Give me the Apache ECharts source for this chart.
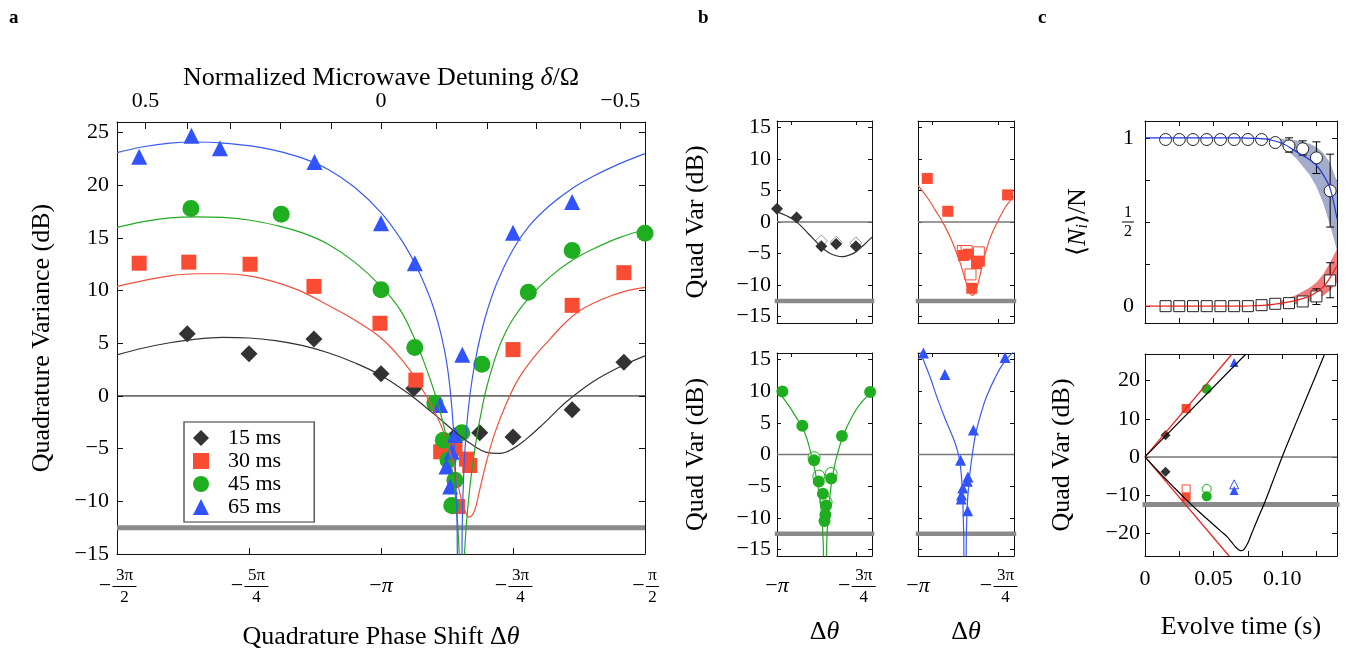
<!DOCTYPE html>
<html><head><meta charset="utf-8">
<script src="https://cdn.jsdelivr.net/npm/echarts@6/dist/echarts.min.js"></script>
<style>html,body{margin:0;padding:0;background:#fff}#c{width:1347px;height:652px}</style>
</head><body><div id="c"></div>
<script>
// ---------------- DATA (x in units of π for phase panels) ----------------
// Panel a: scatter
const a15x = [-1.367,-1.25,-1.127,-1.0,-0.938,-0.86,-0.813,-0.75,-0.638,-0.54];
const a15y = [5.9,4.0,5.4,2.1,0.7,-3.8,-3.5,-3.9,-1.3,3.2];
const a30x = [-1.458,-1.364,-1.248,-1.127,-1.002,-0.934,-0.887,-0.86,-0.838,-0.832,-0.855,-0.75,-0.638,-0.54];
const a30y = [12.6,12.7,12.5,10.4,6.9,1.5,-5.3,-5.0,-6.0,-6.6,-10.5,4.4,8.6,11.7];
const a45x = [-1.36,-1.189,-1.0,-0.936,-0.898,-0.882,-0.847,-0.873,-0.86,-0.866,-0.809,-0.721,-0.638,-0.5];
const a45y = [17.8,17.25,10.07,4.6,-0.7,-4.2,-3.5,-6.1,-8.0,-10.4,3.0,9.85,13.8,15.45];
const a65x = [-1.458,-1.359,-1.305,-1.126,-1.0,-0.936,-0.888,-0.86,-0.866,-0.876,-0.869,-0.846,-0.75,-0.638];
const a65y = [22.7,24.7,23.5,22.2,16.4,12.6,-0.85,-3.7,-5.3,-6.7,-8.6,3.9,15.5,18.4];
// Panel a: fits [θ/π, dB]
const fitA15 = [[-1.5,3.9],[-1.45,4.55],[-1.4,5.05],[-1.35,5.4],[-1.3,5.55],[-1.25,5.5],[-1.2,5.25],[-1.15,4.8],[-1.1,4.1],[-1.05,3.15],[-1.0,1.95],[-0.95,0.3],[-0.9,-1.7],[-0.85,-3.8],[-0.825,-4.7],[-0.8,-5.35],[-0.775,-5.45],[-0.75,-5.0],[-0.725,-4.1],[-0.7,-3.0],[-0.675,-1.8],[-0.65,-0.6],[-0.6,1.3],[-0.55,2.7],[-0.5,3.8]];
const fitA30 = [[-1.5,10.4],[-1.45,10.95],[-1.4,11.4],[-1.35,11.6],[-1.3,11.6],[-1.25,11.4],[-1.2,10.8],[-1.15,9.9],[-1.1,8.6],[-1.05,7.2],[-1.0,5.5],[-0.96,3.4],[-0.93,1.3],[-0.9,-1.3],[-0.88,-3.6],[-0.865,-6.0],[-0.853,-8.7],[-0.843,-10.6],[-0.833,-11.5],[-0.823,-10.9],[-0.813,-8.9],[-0.8,-6.2],[-0.785,-3.6],[-0.765,-1.0],[-0.74,1.6],[-0.71,3.7],[-0.68,5.4],[-0.65,7.0],[-0.62,8.2],[-0.58,9.2],[-0.54,9.9],[-0.5,10.3]];
const fitA45 = [[-1.5,16.0],[-1.45,16.55],[-1.4,16.9],[-1.35,17.0],[-1.3,16.95],[-1.25,16.7],[-1.2,16.2],[-1.15,15.5],[-1.1,14.4],[-1.05,12.7],[-1.0,10.4],[-0.964,8.2],[-0.936,5.4],[-0.92,3.4],[-0.907,1.6],[-0.893,-0.6],[-0.879,-3.3],[-0.868,-6.2],[-0.86,-9.0],[-0.855,-12],[-0.851,-16],[-0.849,-20],[-0.846,-20],[-0.843,-16],[-0.838,-12],[-0.832,-8.8],[-0.825,-6.0],[-0.818,-3.7],[-0.81,-1.5],[-0.8,0.8],[-0.785,3.4],[-0.77,5.4],[-0.75,7.3],[-0.72,9.3],[-0.68,11.3],[-0.64,12.8],[-0.6,13.9],[-0.55,15.0],[-0.5,15.8]];
const fitA65 = [[-1.5,23.1],[-1.45,23.65],[-1.4,24.0],[-1.35,24.1],[-1.3,24.0],[-1.25,23.75],[-1.2,23.3],[-1.15,22.6],[-1.1,21.5],[-1.05,19.8],[-1.0,17.4],[-0.964,15.0],[-0.936,12.6],[-0.915,10.3],[-0.9,8.3],[-0.886,5.8],[-0.876,3.3],[-0.869,0.6],[-0.863,-3.0],[-0.859,-7],[-0.856,-12],[-0.854,-20],[-0.848,-20],[-0.846,-12],[-0.843,-7],[-0.838,-3],[-0.831,0.3],[-0.822,3.2],[-0.8125,5.5],[-0.8,7.9],[-0.78,10.8],[-0.75,13.9],[-0.72,16.1],[-0.68,18.1],[-0.638,19.7],[-0.6,20.8],[-0.55,22.0],[-0.5,23.0]];
// Panel a: axes
const aXMin = -1.5, aXMax = -0.5, aYMin = -15, aYMax = 26;
const aYTicks = [-15,-10,-5,0,5,10,15,20,25];
const aXTicks = [-1.25,-1,-0.75];
const fracVals = [-1.5,-1.25,-1,-0.75,-0.5];
const fracNum  = ['3π','5π','π','3π','π'];
const fracDen  = ['2','4','','4','2'];
const aTopTickTheta  = [-1.446,-1.367,-1.286,-1.19,-1.095,-1.0,-0.896,-0.799,-0.706,-0.623,-0.547];
const aTopTickDetune = [0.5,0.4,0.3,0.2,0.1,0,-0.1,-0.2,-0.3,-0.4,-0.5];
const aTopLabelDetune = [0.5,0,-0.5];
const legendNames = ['15 ms','30 ms','45 ms','65 ms'];
const sqlLevel = -12.5;   // standard quantum limit line (dB)

// Panel b
const bXMin = -1.0, bXMax = -0.7, bYMin = -16, bYMax = 16;
const bYTicks = [-15,-10,-5,0,5,10,15];
const bXTicksTop = [-0.955,-0.75];
const bXTicksBottom = [-0.75];
const bXLabels = [-1,-0.75];
const b15x = [-1.0,-0.938,-0.86,-0.813,-0.751];
const b15y = [2.1,0.7,-3.85,-3.5,-3.85];
const b15ox = [-0.86,-0.813,-0.751];
const b15oy = [-3.0,-3.2,-3.3];
const b30x = [-0.971,-0.907,-0.858,-0.843,-0.832,-0.817,-0.808,-0.72];
const b30y = [6.9,1.7,-5.3,-5.1,-10.5,-6.6,-6.2,4.3];
const b30ox = [-0.86,-0.848,-0.836,-0.814,-0.81];
const b30oy = [-4.6,-4.6,-8.3,-5.3,-4.8];
const b45x = [-0.983,-0.92,-0.883,-0.868,-0.855,-0.845,-0.847,-0.85,-0.829,-0.795,-0.706];
const b45y = [9.94,4.55,-0.9,-4.24,-6.2,-8.05,-9.5,-10.5,-3.8,2.9,9.84];
const b45ox = [-0.883,-0.868,-0.845,-0.829];
const b45oy = [-0.5,-3.4,-7.5,-3.0];
const b65x = [-0.983,-0.916,-0.867,-0.827,-0.844,-0.846,-0.86,-0.864,-0.865,-0.845,-0.728];
const b65y = [16.0,12.6,-0.9,3.86,-3.55,-4.2,-5.3,-6.4,-7.0,-8.85,15.3];
const fitB15 = [[-1.0,1.6],[-0.97,1.0],[-0.94,0.1],[-0.9,-1.9],[-0.86,-3.95],[-0.835,-4.9],[-0.813,-5.35],[-0.793,-5.5],[-0.77,-5.2],[-0.75,-4.7],[-0.725,-3.6],[-0.7,-2.4]];
const fitB30 = [[-1.0,5.8],[-0.97,3.8],[-0.945,1.8],[-0.92,-0.3],[-0.895,-2.9],[-0.87,-6.2],[-0.852,-9.2],[-0.84,-11.0],[-0.83,-11.6],[-0.82,-11.0],[-0.808,-8.8],[-0.793,-5.6],[-0.775,-2.6],[-0.752,0],[-0.73,2.1],[-0.715,3.2],[-0.7,4.1]];
const fitB45 = [[-1.0,10.2],[-0.98,8.9],[-0.96,7.5],[-0.94,5.9],[-0.92,4.3],[-0.905,2.4],[-0.892,0],[-0.88,-2.6],[-0.87,-5.2],[-0.862,-8],[-0.857,-11],[-0.854,-14],[-0.852,-18],[-0.846,-18],[-0.843,-14],[-0.84,-10.8],[-0.835,-7.6],[-0.828,-4.5],[-0.818,-1.7],[-0.808,0.3],[-0.795,2.4],[-0.775,4.8],[-0.75,7.1],[-0.725,8.7],[-0.7,10.0]];
const fitB65 = [[-1.0,17],[-0.98,14.5],[-0.96,11.9],[-0.942,9.2],[-0.915,5.6],[-0.89,2.6],[-0.876,0.5],[-0.868,-1.6],[-0.862,-5],[-0.859,-9],[-0.857,-13],[-0.856,-18],[-0.85,-18],[-0.849,-13],[-0.846,-8],[-0.84,-4],[-0.833,-1],[-0.825,1.8],[-0.817,3.9],[-0.8,7.0],[-0.786,9.1],[-0.76,12.0],[-0.733,14.4],[-0.7,16.3]];

// Panel c (top): populations
const cXMin = 0, cXMax = 0.14;
const cXTicks = [0.025,0.05,0.075,0.1,0.125];
const cXLabels = [0,0.05,0.1];
const cTopYMin = -0.1, cTopYMax = 1.1;
const cTopYTicks = [0,0.25,0.5,0.75,1];
const cTopYLabels = [0,0.5,1];
const cTime   = [0.015,0.025,0.035,0.045,0.055,0.065,0.075,0.085,0.095,0.105,0.115,0.125,0.135];
const cCircle = [0.99,0.99,0.99,0.99,0.99,0.99,0.99,0.99,0.972,0.952,0.935,0.881,0.685];
const cSquare = [0,0,0,0,0,0,0,0.006,0.014,0.018,0.028,0.058,0.153];
const cCircErr = [[0.105,0.915,1.0],[0.115,0.897,0.982],[0.125,0.788,0.976],[0.135,0.47,0.903]];
const cSqErr   = [[0.125,0.01,0.103],[0.135,0.05,0.258]];
const cLineT   = [0,0.07,0.08,0.09,0.1,0.108,0.115,0.12,0.125,0.13,0.135,0.14];
const cBlueLine= [1,1,0.997,0.99,0.968,0.93,0.895,0.87,0.837,0.78,0.70,0.52];
const cRedLine = [0,0,0.003,0.008,0.018,0.03,0.045,0.06,0.083,0.115,0.17,0.24];
const cBandT  = [0.08,0.09,0.1,0.11,0.12,0.125,0.13,0.135,0.14];
const cBlueHi = [1,1,0.995,0.985,0.965,0.945,0.91,0.85,0.74];
const cBlueLo = [1,0.985,0.95,0.88,0.78,0.71,0.61,0.48,0.33];
const cRedHi  = [0.005,0.015,0.035,0.065,0.11,0.14,0.19,0.26,0.34];
const cRedLo  = [0,0,0.005,0.012,0.028,0.042,0.062,0.095,0.14];
// Panel c (bottom): quadrature variance vs time
const cBotYMin = -26, cBotYMax = 27;
const cBotYTicks = [-20,-10,0,10,20];
const cBlackUp  = [[0,0],[0.0736,27]];
const cRedUp    = [[0,0],[0.0635,27]];
const cRedDown  = [[0,0],[0.0613,-26]];
const cBlackDown= [[0,0],[0.01,-3.9],[0.02,-7.6],[0.03,-11.2],[0.04,-14.6],[0.05,-17.8],[0.055,-19.4],[0.06,-21.0],[0.063,-22.3],[0.066,-23.6],[0.0685,-24.4],[0.0705,-24.6],[0.0725,-24.1],[0.075,-22.6],[0.078,-19.9],[0.082,-16.4],[0.087,-12.2],[0.093,-6.6],[0.1,0],[0.11,8.8],[0.12,17.4],[0.131,27]];
const cDiam = [[0.015,5.7],[0.015,-3.9]];
const cSqF  = [[0.03,12.7],[0.03,-10.6]];
const cSqO  = [[0.03,-8.4]];
const cCirF = [[0.045,17.8],[0.045,-10.35]];
const cCirO = [[0.045,-8.4]];
const cTriF = [[0.065,24.8],[0.065,-8.8]];
const cTriO = [[0.065,-7.2]];

// ---------------- STYLE / BUILD ----------------
const FONT = '"Liberation Serif","Times New Roman",serif';
const TICKFS = 22, NAMEFS = 26;
const MK = {k:'#333333', r:'#fa4b33', g:'#1fae1f', b:'#3052ff'};
const LN = {k:'#333333', r:'#f3503c', g:'#22aa22', b:'#3a5af2'};
const zip = (xs, ys) => xs.map((x, i) => [x, ys[i]]);
const minus = v => (v < 0 ? '\u2212' + Math.abs(v) : String(v));

const fracRich = {
  nw:{fontFamily:FONT,fontSize:17,color:'#000',width:24,align:'center',lineHeight:17},
  nn:{fontFamily:FONT,fontSize:17,color:'#000',width:13,align:'center',lineHeight:17},
  bw:{width:24,height:1,lineHeight:5,backgroundColor:'#000'},
  bn:{width:13,height:1,lineHeight:5,backgroundColor:'#000'},
  mi:{fontFamily:FONT,fontSize:TICKFS,color:'#000',width:15,align:'center',lineHeight:5},
  sp:{fontFamily:FONT,fontSize:17,width:15,lineHeight:17},
  e:{fontFamily:FONT,fontSize:17,lineHeight:17},
  pm:{fontFamily:FONT,fontSize:TICKFS,color:'#000',lineHeight:5},
  pi:{fontFamily:FONT,fontSize:TICKFS,fontStyle:'italic',color:'#000',lineHeight:5}
};
function fracFmt(v) {
  const i = fracVals.findIndex(u => Math.abs(u - v) < 1e-9);
  if (i < 0) return '';
  const n = fracNum[i], d = fracDen[i];
  if (!d) return '{e| }\n{pm|\u2212}{pi|' + n + '}\n{e| }';
  const c = n.length > 1 ? 'w' : 'n';
  return '{sp| }{n' + c + '|' + n + '}\n{mi|\u2212}{b' + c + '| }\n{sp| }{n' + c + '|' + d + '}';
}

function ax(g, pos, min, max, tickVals, tickLen, label, extra) {
  return Object.assign({
    type:'value', gridIndex:g, position:pos, min:min, max:max,
    axisLine:{show:true, onZero:false, lineStyle:{color:'#111', width:1}},
    axisTick: tickVals && tickVals.length ? {show:true, inside:true, length:tickLen, customValues:tickVals, lineStyle:{color:'#111', width:1}} : {show:false},
    axisLabel: label ? Object.assign({show:true, color:'#000', fontFamily:FONT, fontSize:TICKFS}, label) : {show:false},
    splitLine:{show:false}, splitArea:{show:false}
  }, extra || {});
}
const nameStyle = (extraRich) => ({fontFamily:FONT, fontSize:NAMEFS, color:'#000', rich: extraRich || {}});
const itRich = {i:{fontFamily:FONT, fontSize:NAMEFS, fontStyle:'italic', color:'#000'}};

const xAxes = [], yAxes = [];
// grid 0: panel a
xAxes.push(ax(0,'bottom',aXMin,aXMax,aXTicks,6,{customValues:fracVals, formatter:fracFmt, rich:fracRich, margin:13},
  {name:'Quadrature Phase Shift \u0394{i|\u03b8}', nameLocation:'middle', nameGap:70, nameTextStyle:nameStyle(itRich)}));
xAxes.push(ax(0,'top',aXMin,aXMax,aTopTickTheta,7,{
  customValues: aTopLabelDetune.map(d => aTopTickTheta[aTopTickDetune.indexOf(d)]),
  formatter: v => minus(aTopTickDetune[aTopTickTheta.indexOf(v)]), margin:10},
  {name:'Normalized Microwave Detuning {i|\u03b4}/\u03a9', nameLocation:'middle', nameGap:31, nameMoveOverlap:false, nameTextStyle:nameStyle(itRich)}));
yAxes.push(ax(0,'left',aYMin,aYMax,aYTicks,6,{customValues:aYTicks, formatter:minus, margin:8},
  {name:'Quadrature Variance (dB)', nameLocation:'middle', nameGap:62, nameTextStyle:nameStyle()}));
yAxes.push(ax(0,'right',aYMin,aYMax,aYTicks,6,null));
// grids 1..4: panel b
for (let g = 1; g <= 4; g++) {
  const isLeft = (g === 1 || g === 3), isBottom = (g >= 3);
  xAxes.push(ax(g,'bottom',bXMin,bXMax,bXTicksBottom,4,
    isBottom ? {customValues:bXLabels, formatter:fracFmt, rich:fracRich, margin:11} : null,
    isBottom ? {name:'\u0394{i|\u03b8}', nameLocation:'middle', nameGap:63, nameTextStyle:nameStyle(itRich)} : {}));
  xAxes.push(ax(g,'top',bXMin,bXMax,bXTicksTop,4,null));
  yAxes.push(ax(g,'left',bYMin,bYMax,bYTicks,4,
    isLeft ? {customValues:bYTicks, formatter:minus, margin:6} : null,
    isLeft ? {name:'Quad Var (dB)', nameLocation:'middle', nameGap:68, nameTextStyle:nameStyle()} : {}));
  yAxes.push(ax(g,'right',bYMin,bYMax,bYTicks,4,null));
}
// grid 5: panel c top
const halfRich = {h:{fontFamily:FONT,fontSize:16,color:'#000',width:12,align:'center',lineHeight:15},
                  hb:{width:12,height:1,lineHeight:4,backgroundColor:'#000'}};
xAxes.push(ax(5,'bottom',cXMin,cXMax,cXTicks,5,null));
xAxes.push(ax(5,'top',cXMin,cXMax,cXTicks,5,null));
yAxes.push(ax(5,'left',cTopYMin,cTopYMax,cTopYTicks,5,{customValues:cTopYLabels, rich:halfRich, margin:11,
  formatter: v => (v === 0.5 ? '{h|1}\n{hb| }\n{h|2}' : String(v))},
  {name:'\u27e8{it|N}{sub|i}\u27e9/N', nameLocation:'middle', nameGap:54,
   nameTextStyle:nameStyle({it:{fontFamily:FONT,fontSize:NAMEFS,fontStyle:'italic',color:'#000'},
                            sub:{fontFamily:FONT,fontSize:16,fontStyle:'italic',color:'#000',verticalAlign:'bottom'}})}));
yAxes.push(ax(5,'right',cTopYMin,cTopYMax,cTopYTicks,5,null));
// grid 6: panel c bottom
xAxes.push(ax(6,'bottom',cXMin,cXMax,cXTicks,5,{customValues:cXLabels, margin:12,
  formatter: v => (v === 0 ? '0' : v.toFixed(2))},
  {name:'Evolve time (s)', nameLocation:'middle', nameGap:58, nameTextStyle:nameStyle()}));
xAxes.push(ax(6,'top',cXMin,cXMax,cXTicks,5,null));
yAxes.push(ax(6,'left',cBotYMin,cBotYMax,cBotYTicks,5,{customValues:cBotYTicks, formatter:minus, margin:5},
  {name:'Quad Var (dB)', nameLocation:'middle', nameGap:70, nameTextStyle:nameStyle()}));
yAxes.push(ax(6,'right',cBotYMin,cBotYMax,cBotYTicks,5,null));

// series helpers
const series = [];
function refLine(g, x0, x1, y, color, w, cap) {
  series.push({type:'line', xAxisIndex:2*g, yAxisIndex:2*g, data:[[x0,y],[x1,y]], symbol:'none', silent:true,
    clip:false, lineStyle:{color:color, width:w, cap:cap || 'butt'}, z:1});
}
function scat(name, g, data, symbol, size, fill, stroke, bw) {
  series.push({type:'scatter', name:name, xAxisIndex:2*g, yAxisIndex:2*g, data:data, symbol:symbol, symbolSize:size,
    clip:false, silent:true,
    itemStyle:{color:fill, borderColor:stroke || fill, borderWidth: bw == null ? 0 : bw, opacity:1}, z:3});
}
function fit(g, data, color, w, smooth) {
  series.push({type:'line', xAxisIndex:2*g, yAxisIndex:2*g, data:data, symbol:'none', silent:true, clip:true,
    smooth: smooth == null ? 0.4 : smooth, lineStyle:{color:color, width:w || 1.2}, z:4});
}
function band(g, ts, lo, hi, color) {
  series.push({type:'custom', xAxisIndex:2*g, yAxisIndex:2*g, silent:true, z:1, data:[[ts[0], lo[0]]],
    renderItem: (p, api) => {
      const pts = [];
      ts.forEach((t, i) => pts.push(api.coord([t, hi[i]])));
      for (let i = ts.length - 1; i >= 0; i--) pts.push(api.coord([ts[i], lo[i]]));
      return {type:'polygon', shape:{points:pts}, style:{fill:color}};
    }});
}
function errBars(g, rows) {
  series.push({type:'custom', xAxisIndex:2*g, yAxisIndex:2*g, silent:true, z:2, data:rows, encode:{x:0, y:[1,2]},
    renderItem: (p, api) => {
      const x = api.value(0), a = api.coord([x, api.value(1)]), b = api.coord([x, api.value(2)]), w = 4;
      const st = {stroke:'#000', lineWidth:1};
      return {type:'group', children:[
        {type:'line', shape:{x1:a[0], y1:a[1], x2:b[0], y2:b[1]}, style:st},
        {type:'line', shape:{x1:a[0]-w, y1:a[1], x2:a[0]+w, y2:a[1]}, style:st},
        {type:'line', shape:{x1:b[0]-w, y1:b[1], x2:b[0]+w, y2:b[1]}, style:st}]};
    }});
}

// Panel a
refLine(0, aXMin, aXMax, sqlLevel, '#8a8a8a', 5);
refLine(0, aXMin, aXMax, 0, '#000', 1);
scat(legendNames[0], 0, zip(a15x,a15y), 'diamond', 17, MK.k);
scat(legendNames[1], 0, zip(a30x,a30y), 'rect', 15, MK.r);
scat(legendNames[2], 0, zip(a45x,a45y), 'circle', 17, MK.g);
scat(legendNames[3], 0, zip(a65x,a65y), 'triangle', 16, MK.b);
fit(0, fitA15, LN.k); fit(0, fitA30, LN.r); fit(0, fitA45, LN.g); fit(0, fitA65, LN.b);

// Panel b
const bSets = [
  {g:1, f:[b15x,b15y], o:[b15ox,b15oy], fit:fitB15, sym:'diamond', size:12, c:'k'},
  {g:2, f:[b30x,b30y], o:[b30ox,b30oy], fit:fitB30, sym:'rect', size:11, c:'r'},
  {g:3, f:[b45x,b45y], o:[b45ox,b45oy], fit:fitB45, sym:'circle', size:12, c:'g'},
  {g:4, f:[b65x,b65y], o:null, fit:fitB65, sym:'triangle', size:11, c:'b'}
];
bSets.forEach(s => {
  refLine(s.g, bXMin, bXMax, sqlLevel, '#8a8a8a', 4.5, 'square');
  refLine(s.g, bXMin, bXMax, 0, '#777', 1.5);
  if (s.o) scat('b-open-' + s.g, s.g, zip(s.o[0], s.o[1]), s.sym, s.size, '#fff', s.c === 'k' ? '#999' : MK[s.c], 1);
  scat('b-fill-' + s.g, s.g, zip(s.f[0], s.f[1]), s.sym, s.size, MK[s.c]);
  fit(s.g, s.fit, LN[s.c], 1.2);
});

// Panel c top
band(5, cBandT, cBlueLo, cBlueHi, '#a3accb');
band(5, cBandT, cRedLo, cRedHi, '#f27a7a');
fit(5, zip(cLineT, cBlueLine), '#2233e0', 1.2, 0.3);
fit(5, zip(cLineT, cRedLine), '#e82020', 1.2, 0.3);
errBars(5, cCircErr);
errBars(5, cSqErr);
scat('c-circ', 5, zip(cTime, cCircle), 'circle', 12, '#fff', '#222', 1);
scat('c-sq', 5, zip(cTime, cSquare), 'rect', 11, '#fff', '#222', 1);

// Panel c bottom
refLine(6, cXMin, cXMax, sqlLevel, '#8a8a8a', 5, 'square');
refLine(6, cXMin, cXMax, 0, '#777', 1.5);
fit(6, cRedUp, '#e82020', 1.2, false);
fit(6, cRedDown, '#e82020', 1.2, false);
fit(6, cBlackUp, '#000', 1.2, false);
fit(6, cBlackDown, '#000', 1.2, 0.4);
scat('c-d', 6, cDiam, 'diamond', 10, MK.k);
scat('c-so', 6, cSqO, 'rect', 8, '#fff', MK.r, 1);
scat('c-sf', 6, cSqF, 'rect', 9, MK.r);
scat('c-co', 6, cCirO, 'circle', 9, '#fff', MK.g, 1);
scat('c-cf', 6, cCirF, 'circle', 10, MK.g);
scat('c-to', 6, cTriO, 'triangle', 9, '#fff', MK.b, 1);
scat('c-tf', 6, cTriF, 'triangle', 9, MK.b);

const gridBase = {show:false, containLabel:false, outerBoundsMode:'none'};
const option = {
  animation:false,
  backgroundColor:'#fff',
  textStyle:{fontFamily:FONT},
  grid:[
    Object.assign({left:117, top:122, width:528, height:432}, gridBase),
    Object.assign({left:777, top:121, width:95, height:202}, gridBase),
    Object.assign({left:918, top:121, width:96, height:202}, gridBase),
    Object.assign({left:777, top:353, width:95, height:203}, gridBase),
    Object.assign({left:918, top:353, width:96, height:203}, gridBase),
    Object.assign({left:1145, top:121, width:192, height:202}, gridBase),
    Object.assign({left:1145, top:354, width:192, height:202}, gridBase)
  ],
  xAxis:xAxes, yAxis:yAxes,
  legend:{data:legendNames, orient:'vertical', left:184, top:422, itemWidth:16, itemHeight:16, itemGap:1,
    padding:[5,33,4,9], borderColor:'#333', borderWidth:1.2, selectedMode:false, backgroundColor:'#fff',
    textStyle:{fontFamily:FONT, fontSize:22, color:'#000', lineHeight:21, padding:[0,0,0,14]}},
  graphic:[
    {type:'text', left:9, top:9, style:{text:'a', font:'bold 19px ' + FONT, fill:'#000'}},
    {type:'text', left:698, top:9, style:{text:'b', font:'bold 19px ' + FONT, fill:'#000'}},
    {type:'text', left:1038, top:9, style:{text:'c', font:'bold 19px ' + FONT, fill:'#000'}}
  ],
  series:series
};
const chart = echarts.init(document.getElementById('c'), null, {renderer:'canvas'});
chart.setOption(option);
</script></body></html>
